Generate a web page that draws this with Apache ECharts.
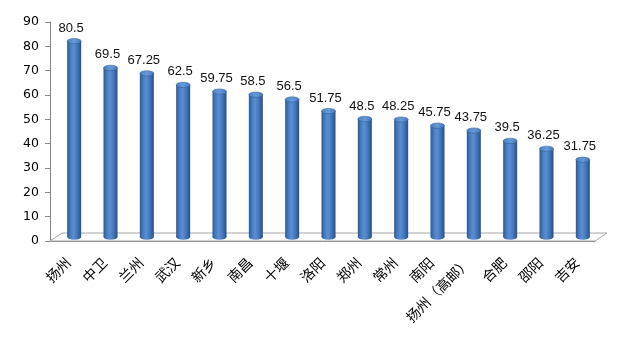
<!DOCTYPE html>
<html><head><meta charset="utf-8">
<script src="https://cdn.jsdelivr.net/npm/echarts@6/dist/echarts.min.js"></script>
<style>html,body{margin:0;padding:0;background:#fff}#c{width:632px;height:341px}</style>
</head><body><div id="c"></div>
<script>
const categories = ['扬州','中卫','兰州','武汉','新乡','南昌','十堰','洛阳','郑州','常州','南阳','扬州（高邮）','合肥','邵阳','吉安'];
const values = [80.5,69.5,67.25,62.5,59.75,58.5,56.5,51.75,48.5,48.25,45.75,43.75,39.5,36.25,31.75];
const yTicks = [0,10,20,30,40,50,60,70,80,90];

const chart = echarts.init(document.getElementById('c'), null, {renderer:'canvas'});
const DX = 6, DY = -4, BW = 14;
const bodyGrad = new echarts.graphic.LinearGradient(0,0,1,0,[
  {offset:0,color:'#2b5894'},{offset:0.25,color:'#4a7fc4'},{offset:0.45,color:'#5a8ed2'},{offset:0.7,color:'#4678bb'},{offset:1,color:'#274f87'}]);
const topGrad = new echarts.graphic.LinearGradient(0,0,1,0,[
  {offset:0,color:'#4a7dc0'},{offset:0.5,color:'#679ad9'},{offset:1,color:'#4576b8'}]);

chart.setOption({
  animation:false,
  grid:{left:50,right:37,top:22,bottom:100},
  xAxis:{type:'category',data:categories,
    axisLine:{lineStyle:{color:'#868686'}},
    axisTick:{length:5,lineStyle:{color:'#868686'}},
    axisLabel:{rotate:45,margin:19,color:'#000',fontSize:14,fontFamily:'"Noto Sans CJK SC"',interval:0}},
  yAxis:{type:'value',min:0,max:90,interval:10,
    axisLine:{show:true,lineStyle:{color:'#868686'}},
    axisTick:{show:true,length:5,lineStyle:{color:'#868686'}},
    splitLine:{show:false},
    axisLabel:{margin:11,color:'#000',fontSize:12.5,fontFamily:'"DejaVu Sans"',
      formatter:v=>yTicks.includes(v)?String(v):''}},
  series:[
    {type:'custom',z:1,data:[[0,0]],silent:true,
     renderItem(params,api){
       const cs=params.coordSys;
       const x0=cs.x,x1=cs.x+cs.width,y=cs.y+cs.height;
       return {type:'polygon',shape:{points:[[x0,y],[x1,y],[x1+12,y-8],[x0+12,y-8]]},
         style:{fill:'#fff',stroke:'#a6a6a6',lineWidth:1}};
     }},
    {type:'custom',z:2,data:values.map((v,i)=>[i,v]),
     renderItem(params,api){
       const t=api.coord([api.value(0),api.value(1)]);
       const b=api.coord([api.value(0),0]);
       const cx=t[0]+DX, top=t[1]+DY, bot=b[1]+DY;
       const r=BW/2;
       return {type:'group',children:[
         {type:'circle',x:cx,y:bot,scaleY:0.38,shape:{cx:0,cy:0,r:r},style:{fill:bodyGrad}},
         {type:'rect',shape:{x:cx-r,y:top,width:BW,height:bot-top},style:{fill:bodyGrad}},
         {type:'circle',x:cx,y:top,scaleY:0.38,shape:{cx:0,cy:0,r:r},style:{fill:topGrad,stroke:'#2f5d99',lineWidth:0.8}},
         {type:'text',x:cx-3,y:top-13,style:{text:String(api.value(1)),align:'center',verticalAlign:'middle',
           fill:'#111',font:'13px "Liberation Sans"'}}
       ]};
     }}
  ]
});
</script></body></html>
